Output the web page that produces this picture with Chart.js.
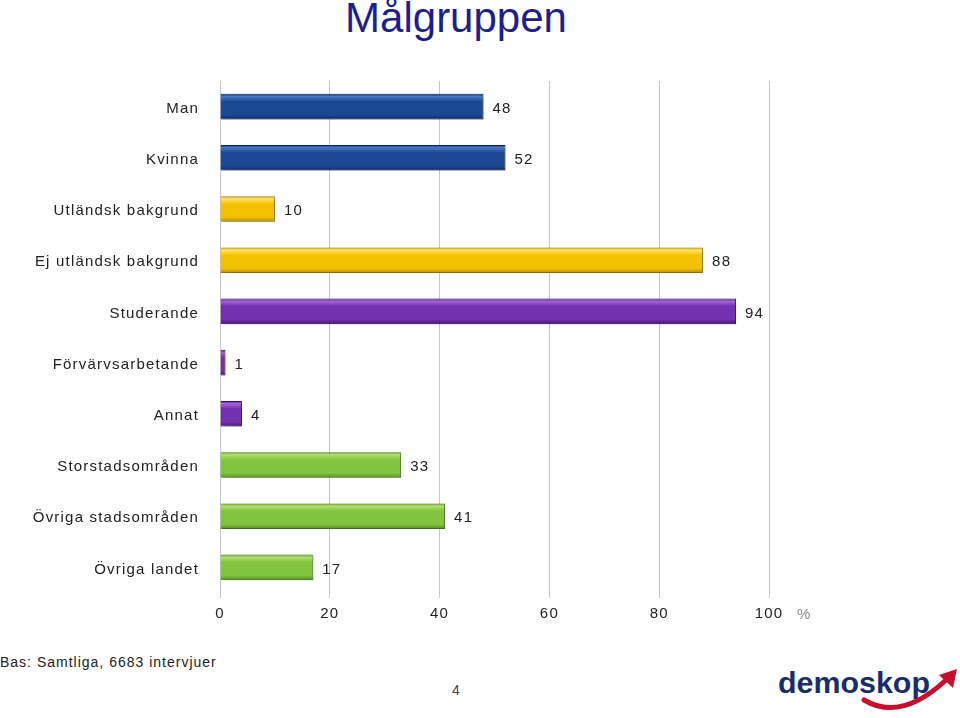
<!DOCTYPE html>
<html>
<head>
<meta charset="utf-8">
<script src="https://cdn.jsdelivr.net/npm/chart.js@4"></script>
<style>
  body { margin:0; width:960px; height:718px; background:#fff; position:relative; overflow:hidden; font-family:"Liberation Sans", Arial, sans-serif; }
  #title { position:absolute; top:-6px; left:0; width:912px; text-align:center; font-size:42px; color:#1e1e8c; }
  #wrap { position:absolute; left:0; top:0; width:960px; height:640px; }
  #bas { position:absolute; left:0; top:654px; font-size:14px; color:#222; letter-spacing:1px; }
  #page { position:absolute; left:452px; top:682px; font-size:14px; color:#444; }
  #logo { position:absolute; left:776px; top:656px; width:184px; height:62px; }
</style>
</head>
<body>
<div id="title">Målgruppen</div>
<div id="wrap"><canvas id="barChart" width="960" height="640"></canvas></div>
<div id="bas">Bas: Samtliga, 6683 intervjuer</div>
<div id="page">4</div>
<svg id="logo" viewBox="0 0 184 62">
  <text x="2" y="37" font-family="Liberation Sans, Arial, sans-serif" font-weight="bold" font-size="30" fill="#1a2d6b" textLength="152" lengthAdjust="spacingAndGlyphs">demoskop</text>
  <path d="M88 44 Q125 66 170 24" stroke="#c8102e" stroke-width="5" fill="none" stroke-linecap="round"/>
  <path d="M163 19 L181 13 L177 32 Z" fill="#c8102e"/>
</svg>
<script>
// Data
const categories = ['Man','Kvinna','Utländsk bakgrund','Ej utländsk bakgrund','Studerande','Förvärvsarbetande','Annat','Storstadsområden','Övriga stadsområden','Övriga landet'];
const values = [48, 52, 10, 88, 94, 1, 4, 33, 41, 17];
const xTicks = [0, 20, 40, 60, 80, 100];
const groups = [0, 0, 1, 1, 2, 2, 2, 3, 3, 3];

// colours per group: [light, base, dark]
const palette = [
  ['#4a78c8', '#1c4896', '#0c2a66'],
  ['#ffe46a', '#f2c200', '#b88a00'],
  ['#a565d8', '#7430ae', '#46117a'],
  ['#b2e070', '#82c43e', '#4f8a1c']
];

function barFill(ctx) {
  const c = palette[groups[ctx.dataIndex]];
  const ys = ctx.chart.scales.y;
  if (!ys || !isFinite(ys.getPixelForValue(ctx.dataIndex))) return c[1];
  const cy = ys.getPixelForValue(ctx.dataIndex);
  const h = (ys.height / categories.length) * 0.5;
  const g = ctx.chart.ctx.createLinearGradient(0, cy - h / 2, 0, cy + h / 2);
  g.addColorStop(0, c[2]);
  g.addColorStop(0.1, c[0]);
  g.addColorStop(0.3, c[1]);
  g.addColorStop(0.82, c[1]);
  g.addColorStop(1, c[2]);
  return g;
}

const extras = {
  id: 'extras',
  beforeDraw(chart) {
    chart.ctx.letterSpacing = '1.2px';
  },
  beforeDatasetDraw(chart) {
    const ctx = chart.ctx;
    ctx.save();
    ctx.shadowColor = 'rgba(0,0,0,0.3)';
    ctx.shadowBlur = 4;
    ctx.shadowOffsetX = 2;
    ctx.shadowOffsetY = 2;
  },
  afterDatasetDraw(chart) {
    chart.ctx.restore();
  },
  afterDraw(chart) {
    const ctx = chart.ctx;
    const meta = chart.getDatasetMeta(0);
    ctx.save();
    ctx.font = '15px "Liberation Sans", Arial, sans-serif';
    ctx.fillStyle = '#222';
    ctx.textBaseline = 'middle';
    ctx.textAlign = 'left';
    meta.data.forEach((bar, i) => {
      ctx.fillText(String(values[i]), bar.x + 9, bar.y + 2);
    });
    const xs = chart.scales.x;
    ctx.fillStyle = '#888';
    ctx.fillText('%', xs.getPixelForValue(100) + 28, 615);
    ctx.restore();
  }
};

new Chart(document.getElementById('barChart').getContext('2d'), {
  type: 'bar',
  data: {
    labels: categories,
    datasets: [{
      data: values,
      backgroundColor: barFill,
      borderColor: (ctx) => palette[groups[ctx.dataIndex]][2],
      borderWidth: 1,
      categoryPercentage: 1,
      barPercentage: 0.5
    }]
  },
  options: {
    indexAxis: 'y',
    responsive: false,
    animation: false,
    layout: { padding: { top: 81, right: 191, bottom: 10, left: 0 } },
    plugins: { legend: { display: false }, tooltip: { enabled: false } },
    scales: {
      x: {
        min: 0, max: 100,
        afterBuildTicks: (s) => { s.ticks = xTicks.map(v => ({ value: v })); },
        grid: { color: '#c6c6c6', tickLength: 5, drawTicks: true },
        border: { display: false },
        ticks: { color: '#222', padding: 7, font: { size: 15, family: '"Liberation Sans", Arial, sans-serif' } }
      },
      y: {
        afterFit: (s) => { s.width = 220; },
        grid: { display: false },
        border: { display: false },
        ticks: { color: '#222', padding: 13, labelOffset: 2, font: { size: 15, family: '"Liberation Sans", Arial, sans-serif' } }
      }
    }
  },
  plugins: [extras]
});
</script>
</body>
</html>
